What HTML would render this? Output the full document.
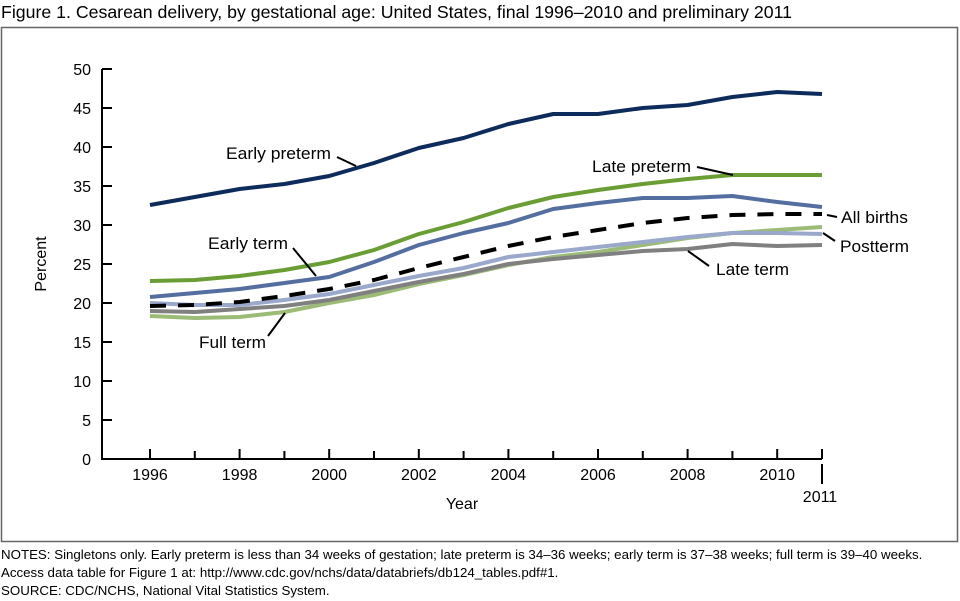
<!DOCTYPE html>
<html><head><meta charset="utf-8"><style>
html,body{margin:0;padding:0;background:#fff}
svg{display:block}
text{font-family:"Liberation Sans",Arial,sans-serif;fill:#000}
</style></head><body>
<svg width="960" height="601" viewBox="0 0 960 601" xmlns="http://www.w3.org/2000/svg">
<text x="1" y="18" font-size="17.6" textLength="791" lengthAdjust="spacingAndGlyphs">Figure 1. Cesarean delivery, by gestational age: United States, final 1996–2010 and preliminary 2011</text>
<rect x="1.5" y="27.5" width="956" height="514" fill="none" stroke="#666" stroke-width="1.5"/>
<g stroke="#000" stroke-width="2" fill="none">
<path d="M102 69 V459 H822"/>
<path d="M102 69h10M102 108h10M102 147h10M102 186h10M102 225h10M102 264h10M102 303h10M102 342h10M102 381h10M102 420h10"/>
<path d="M150 459v-10M194.8 459v-8M239.6 459v-10M284.4 459v-8M329.2 459v-10M374 459v-8M418.8 459v-10M463.6 459v-8M508.4 459v-10M553.2 459v-8M598 459v-10M642.8 459v-8M687.6 459v-10M732.4 459v-8M777.2 459v-10M822 459v-10M822 464v20"/>
</g>
<g font-size="16" text-anchor="end">
<text x="91" y="75">50</text><text x="91" y="114">45</text><text x="91" y="153">40</text><text x="91" y="192">35</text><text x="91" y="231">30</text><text x="91" y="270">25</text><text x="91" y="309">20</text><text x="91" y="348">15</text><text x="91" y="387">10</text><text x="91" y="426">5</text><text x="91" y="465">0</text>
</g>
<g font-size="16" text-anchor="middle">
<text x="150" y="480">1996</text><text x="239.6" y="480">1998</text><text x="329.2" y="480">2000</text><text x="418.8" y="480">2002</text><text x="508.4" y="480">2004</text><text x="598" y="480">2006</text><text x="687.6" y="480">2008</text><text x="777.2" y="480">2010</text><text x="820" y="502">2011</text>
<text x="462" y="509">Year</text>
</g>
<text transform="translate(46 264) rotate(-90)" font-size="16" text-anchor="middle">Percent</text>
<g fill="none" stroke-width="4" stroke-linejoin="round">
<polyline stroke="#9bbb77" points="150,316 194.8,318 239.6,317 284.4,312 329.2,303 374,295 418.8,284 463.6,275 508.4,265 553.2,257 598,252 642.8,245 687.6,238 732.4,233 777.2,230 822,227"/>
<polyline stroke="#808080" points="150,311 194.8,312 239.6,309 284.4,306 329.2,300 374,291 418.8,282 463.6,274 508.4,264 553.2,259 598,255 642.8,251 687.6,249 732.4,244 777.2,246 822,245"/>
<polyline stroke="#9aa8cc" points="150,303 194.8,305 239.6,305 284.4,300 329.2,294 374,285 418.8,276 463.6,268 508.4,257 553.2,252 598,247 642.8,242 687.6,237 732.4,233 777.2,233 822,234"/>
<polyline stroke="#000" stroke-dasharray="16,12" points="150,306 194.8,305 239.6,302 284.4,296 329.2,289 374,280 418.8,268 463.6,257 508.4,246 553.2,237 598,230 642.8,223 687.6,218 732.4,215 777.2,214 822,214"/>
<polyline stroke="#546f9f" points="150,297 194.8,293 239.6,289 284.4,283 329.2,277 374,262 418.8,245 463.6,233 508.4,223 553.2,209 598,203 642.8,198 687.6,198 732.4,196 777.2,202 822,207"/>
<polyline stroke="#6a9e35" points="150,281 194.8,280 239.6,276 284.4,270 329.2,262 374,250 418.8,234 463.6,222 508.4,208 553.2,197 598,190 642.8,184 687.6,179 732.4,175 777.2,175 822,175"/>
<polyline stroke="#0d2c5c" points="150,205 194.8,197 239.6,189 284.4,184 329.2,176 374,163 418.8,148 463.6,138 508.4,124 553.2,114 598,114 642.8,108 687.6,105 732.4,97 777.2,92 822,94"/>
</g>
<g stroke="#000" stroke-width="2">
<line x1="337" y1="157" x2="356" y2="166"/>
<line x1="293" y1="248" x2="316" y2="276"/>
<line x1="268" y1="336" x2="285" y2="313"/>
<line x1="697" y1="167" x2="733" y2="175"/>
<line x1="827" y1="215" x2="837" y2="217"/>
<line x1="823" y1="233" x2="835" y2="241"/>
<line x1="688" y1="251" x2="709" y2="266"/>
</g>
<g font-size="17">
<text x="226" y="159" textLength="105" lengthAdjust="spacingAndGlyphs">Early preterm</text>
<text x="208" y="249" textLength="80" lengthAdjust="spacingAndGlyphs">Early term</text>
<text x="199" y="348" textLength="67" lengthAdjust="spacingAndGlyphs">Full term</text>
<text x="592" y="172" textLength="99" lengthAdjust="spacingAndGlyphs">Late preterm</text>
<text x="841" y="223" textLength="67" lengthAdjust="spacingAndGlyphs">All births</text>
<text x="840" y="252" textLength="69" lengthAdjust="spacingAndGlyphs">Postterm</text>
<text x="716" y="275" textLength="73" lengthAdjust="spacingAndGlyphs">Late term</text>
</g>
<g font-size="13.3">
<text x="1" y="559">NOTES: Singletons only. Early preterm is less than 34 weeks of gestation; late preterm is 34–36 weeks; early term is 37–38 weeks; full term is 39–40 weeks.</text>
<text x="1" y="577">Access data table for Figure 1 at: http://www.cdc.gov/nchs/data/databriefs/db124_tables.pdf#1.</text>
<text x="1" y="595">SOURCE: CDC/NCHS, National Vital Statistics System.</text>
</g>
</svg>
</body></html>
